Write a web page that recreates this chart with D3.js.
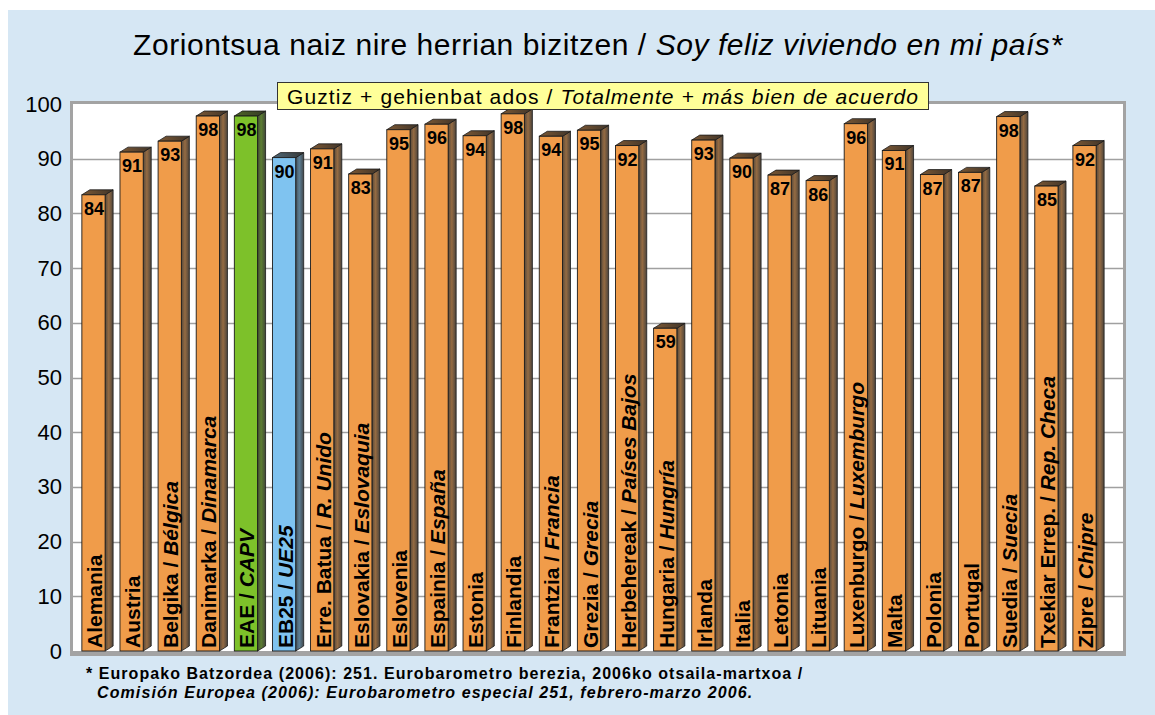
<!DOCTYPE html>
<html>
<head>
<meta charset="utf-8">
<script src="https://cdn.jsdelivr.net/npm/d3@7/dist/d3.min.js"></script>
<style>
  body { margin: 0; background: #fff; }
  svg { display: block; font-family: "Liberation Sans", Arial, sans-serif; }
</style>
</head>
<body>
<script>
// Categories: Basque name and (when present) Spanish name in italics
var namesEu = ["Alemania","Austria","Belgika","Danimarka","EAE","EB25","Erre. Batua","Eslovakia",
  "Eslovenia","Espainia","Estonia","Finlandia","Frantzia","Grezia","Herbehereak","Hungaria",
  "Irlanda","Italia","Letonia","Lituania","Luxenburgo","Malta","Polonia","Portugal","Suedia",
  "Txekiar Errep.","Zipre"];
var namesEs = ["","","Bélgica","Dinamarca","CAPV","UE25","R. Unido","Eslovaquia",
  "","España","","","Francia","Grecia","Países Bajos","Hungría",
  "","","","","Luxemburgo","","","","Suecia",
  "Rep. Checa","Chipre"];
// printed numbers on the bars
var values = [84,91,93,98,98,90,91,83,95,96,94,98,94,95,92,59,93,90,87,86,96,91,87,87,98,85,92];
// bar heights as drawn in the picture (they do not always match the printed number)
var barHeights = [83.4,91.2,93.2,97.8,97.8,90.2,91.8,87.2,95.3,96.3,94.2,98.2,94.1,95.2,92.4,59,
  93.4,90.1,87,86,96.4,91.5,87.1,87.5,97.7,85,92.4];
var yTicks = [0,10,20,30,40,50,60,70,80,90,100];

var width = 1155, height = 715;
var svg = d3.select("body").append("svg").attr("width", width).attr("height", height);

// background
svg.append("rect").attr("x", 8).attr("y", 10).attr("width", width - 8).attr("height", height - 10)
  .attr("fill", "#d6e7f4");

var orange = "#f09c4a", green = "#7dc12a", blue = "#7fc3f0";
function colorFor(i){
  if (namesEu[i] === "EAE") return green;
  if (namesEu[i] === "EB25") return blue;
  return orange;
}

// stretch a text to a target width with letter spacing
function fitWidth(sel, target){
  var node = sel.node();
  var w = node.getComputedTextLength();
  var n = node.textContent.length;
  sel.attr("letter-spacing", ((target - w) / n).toFixed(2));
}

var x = d3.scaleBand().domain(namesEu).range([75, 1103]).paddingInner(0.39).paddingOuter(0.18);
var y = d3.scaleLinear().domain([0, 100]).range([651, 104]);
var dx = 8, dy = 5;

// gradients
var defs = svg.append("defs");
function sideGrad(id, c){
  var g = defs.append("linearGradient").attr("id", id).attr("x1","0").attr("x2","1").attr("y1","0").attr("y2","0");
  var base = d3.interpolateRgb(c, "#3a3a3a");
  g.append("stop").attr("offset","0").attr("stop-color", base(0.85));
  g.append("stop").attr("offset","0.45").attr("stop-color", base(0.5));
  g.append("stop").attr("offset","1").attr("stop-color", base(0.9));
}
function topGrad(id, c){
  var g = defs.append("linearGradient").attr("id", id).attr("x1","0").attr("x2","1").attr("y1","0").attr("y2","0");
  var base = d3.interpolateRgb(c, "#2e2a25");
  g.append("stop").attr("offset","0").attr("stop-color", base(0.6));
  g.append("stop").attr("offset","1").attr("stop-color", base(0.9));
}
[[orange,"o"],[green,"g"],[blue,"b"]].forEach(function(p){
  sideGrad("side-"+p[1], p[0]);
  topGrad("top-"+p[1], p[0]);
});
function key(c){ return c === green ? "g" : c === blue ? "b" : "o"; }

// plot frame + back wall
svg.append("rect").attr("x", 70).attr("y", 101).attr("width", 1056).attr("height", 555).attr("fill", "#a3a3a3");
svg.append("rect").attr("x", 73).attr("y", 104).attr("width", 1050).attr("height", 547).attr("fill", "#ffffff");

// grid
svg.append("g").selectAll("line").data(yTicks.slice(1, -1)).enter().append("line")
  .attr("x1", 73).attr("x2", 1123)
  .attr("y1", function(d){ return Math.round(y(d)) + 0.5; })
  .attr("y2", function(d){ return Math.round(y(d)) + 0.5; })
  .attr("stroke", "#a0a0a0").attr("stroke-width", 1.3);

// y axis labels
var yAxis = d3.axisLeft(y).tickValues(yTicks).tickSize(0).tickPadding(0);
var ya = svg.append("g").attr("transform", "translate(62,0)").call(yAxis);
ya.select(".domain").remove();
ya.selectAll("text").attr("font-size", 22).attr("fill", "#000").attr("font-family", "Liberation Sans, Arial, sans-serif");

// bars
var bars = svg.append("g").selectAll("g").data(namesEu).enter().append("g");
var bw = x.bandwidth();

bars.append("path")
  .attr("d", function(d, i){
    var x0 = x(d) + bw, yt = y(barHeights[i]), yb = y(0);
    return "M"+x0+","+yt+"L"+(x0+dx)+","+(yt-dy)+"L"+(x0+dx)+","+(yb-dy)+"L"+x0+","+yb+"Z";
  })
  .attr("fill", function(d, i){ return "url(#side-"+key(colorFor(i))+")"; })
  .attr("stroke", "#1a1a1a").attr("stroke-width", 0.8);

bars.append("path")
  .attr("d", function(d, i){
    var x0 = x(d), yt = y(barHeights[i]);
    return "M"+x0+","+yt+"L"+(x0+dx)+","+(yt-dy)+"L"+(x0+bw+dx)+","+(yt-dy)+"L"+(x0+bw)+","+yt+"Z";
  })
  .attr("fill", function(d, i){ return "url(#top-"+key(colorFor(i))+")"; })
  .attr("stroke", "#1a1a1a").attr("stroke-width", 0.8);

bars.append("rect")
  .attr("x", function(d){ return x(d); })
  .attr("y", function(d, i){ return y(barHeights[i]); })
  .attr("width", bw)
  .attr("height", function(d, i){ return y(0) - y(barHeights[i]); })
  .attr("fill", function(d, i){ return colorFor(i); })
  .attr("stroke", "#1a1a1a").attr("stroke-width", 0.9);

// value labels
bars.append("text")
  .attr("x", function(d){ return x(d) + bw/2 + 0.5; })
  .attr("y", function(d, i){ return y(barHeights[i]) + 20; })
  .attr("text-anchor", "middle")
  .attr("font-size", 18).attr("font-weight", "bold").attr("fill", "#000")
  .text(function(d, i){ return values[i]; });

// category labels (vertical)
var cat = bars.append("text")
  .attr("transform", function(d){ return "translate(" + (x(d) + bw/2 + 8.5) + ",648) rotate(-90)"; })
  .attr("font-size", 21).attr("font-weight", "bold").attr("fill", "#000");
cat.append("tspan").text(function(d, i){ return namesEs[i] ? d + " / " : d; });
cat.append("tspan").attr("font-style", "italic").text(function(d, i){ return namesEs[i]; });

// title
var title = svg.append("text").attr("x", 133).attr("y", 55)
  .attr("font-size", 30).attr("fill", "#000");
title.append("tspan").text("Zoriontsua naiz nire herrian bizitzen / ");
title.append("tspan").attr("font-style", "italic").text("Soy feliz viviendo en mi país*");
fitWidth(title, 930);

// legend box
var lg = svg.append("g");
var lrect = lg.append("rect").attr("fill", "#ffff99").attr("stroke", "#333").attr("stroke-width", 1);
var ltext = lg.append("text").attr("x", 287).attr("y", 104)
  .attr("font-size", 21).attr("fill", "#000");
ltext.append("tspan").text("Guztiz + gehienbat ados / ");
ltext.append("tspan").attr("font-style", "italic").text("Totalmente + más bien de acuerdo");
fitWidth(ltext, 632);
lrect.attr("x", 277.5).attr("y", 82.5).attr("width", 651).attr("height", 27);

// footnote
var f1 = svg.append("text").attr("x", 86).attr("y", 679).attr("font-size", 16).attr("font-weight", "bold")
  .text("* Europako Batzordea (2006): 251. Eurobarometro berezia, 2006ko otsaila-martxoa /");
fitWidth(f1, 717);
var f2 = svg.append("text").attr("x", 97).attr("y", 698).attr("font-size", 16).attr("font-weight", "bold")
  .attr("font-style", "italic")
  .text("Comisión Europea (2006): Eurobarometro especial 251, febrero-marzo 2006.");
fitWidth(f2, 656);
</script>
</body>
</html>
